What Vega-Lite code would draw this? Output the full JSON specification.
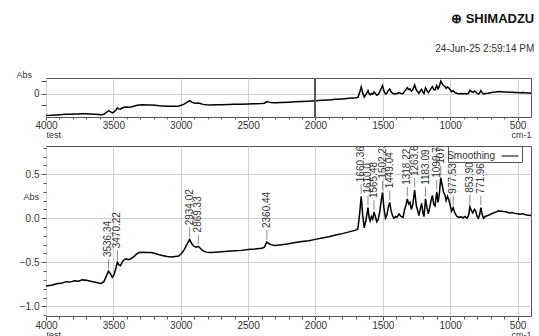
{
  "$schema": "https://vega.github.io/schema/vega-lite/v6.json",
  "padding": {"left": 15, "top": 12, "right": 0, "bottom": 0},
  "background": "white",
  "title": {
    "text": "⊕ SHIMADZU",
    "subtitle": "24-Jun-25 2:59:14 PM",
    "anchor": "end",
    "font": "Liberation Sans",
    "fontSize": 13,
    "fontWeight": "bold",
    "color": "#111111",
    "subtitleFont": "Liberation Sans",
    "subtitleFontSize": 10,
    "subtitleColor": "#333333",
    "subtitlePadding": 18,
    "offset": 16
  },
  "config": {
    "font": "Liberation Sans",
    "view": {"stroke": "#555555", "strokeWidth": 1},
    "axis": {
      "labelFont": "Liberation Sans",
      "labelFontSize": 10,
      "labelColor": "#333333",
      "domain": false,
      "tickColor": "#555555",
      "gridColor": "#cfcfcf",
      "gridWidth": 1,
      "titleFont": "Liberation Sans",
      "titleFontSize": 9,
      "titleFontWeight": "normal",
      "titleColor": "#333333"
    }
  },
  "datasets": {
    "spec": [
      {"wn": 4000, "abs": -0.77}, {"wn": 3960, "abs": -0.76}, {"wn": 3920, "abs": -0.745}, {"wn": 3880, "abs": -0.735},
      {"wn": 3850, "abs": -0.72}, {"wn": 3820, "abs": -0.725}, {"wn": 3790, "abs": -0.71}, {"wn": 3760, "abs": -0.715},
      {"wn": 3730, "abs": -0.7}, {"wn": 3700, "abs": -0.705}, {"wn": 3670, "abs": -0.715}, {"wn": 3640, "abs": -0.725},
      {"wn": 3610, "abs": -0.735}, {"wn": 3590, "abs": -0.74}, {"wn": 3570, "abs": -0.72}, {"wn": 3553, "abs": -0.66},
      {"wn": 3536.34, "abs": -0.6}, {"wn": 3522, "abs": -0.63}, {"wn": 3508, "abs": -0.67}, {"wn": 3495, "abs": -0.64},
      {"wn": 3480, "abs": -0.56}, {"wn": 3470.22, "abs": -0.5}, {"wn": 3458, "abs": -0.53}, {"wn": 3447, "abs": -0.54},
      {"wn": 3435, "abs": -0.5}, {"wn": 3420, "abs": -0.47}, {"wn": 3405, "abs": -0.46}, {"wn": 3390, "abs": -0.47},
      {"wn": 3370, "abs": -0.46}, {"wn": 3350, "abs": -0.44}, {"wn": 3330, "abs": -0.41}, {"wn": 3310, "abs": -0.39},
      {"wn": 3280, "abs": -0.385}, {"wn": 3250, "abs": -0.39}, {"wn": 3220, "abs": -0.39}, {"wn": 3190, "abs": -0.4},
      {"wn": 3160, "abs": -0.415}, {"wn": 3130, "abs": -0.425}, {"wn": 3100, "abs": -0.435}, {"wn": 3070, "abs": -0.44},
      {"wn": 3040, "abs": -0.435}, {"wn": 3015, "abs": -0.43}, {"wn": 2995, "abs": -0.4}, {"wn": 2975, "abs": -0.36},
      {"wn": 2955, "abs": -0.3}, {"wn": 2934.02, "abs": -0.24}, {"wn": 2918, "abs": -0.29}, {"wn": 2900, "abs": -0.32},
      {"wn": 2885, "abs": -0.33}, {"wn": 2869.33, "abs": -0.32}, {"wn": 2855, "abs": -0.34}, {"wn": 2835, "abs": -0.37},
      {"wn": 2810, "abs": -0.385}, {"wn": 2780, "abs": -0.39}, {"wn": 2740, "abs": -0.385}, {"wn": 2700, "abs": -0.38},
      {"wn": 2650, "abs": -0.375}, {"wn": 2600, "abs": -0.37}, {"wn": 2550, "abs": -0.365}, {"wn": 2500, "abs": -0.355},
      {"wn": 2450, "abs": -0.35}, {"wn": 2400, "abs": -0.34}, {"wn": 2380, "abs": -0.33}, {"wn": 2360.44, "abs": -0.27},
      {"wn": 2345, "abs": -0.29}, {"wn": 2330, "abs": -0.3}, {"wn": 2300, "abs": -0.31}, {"wn": 2250, "abs": -0.3},
      {"wn": 2200, "abs": -0.29}, {"wn": 2150, "abs": -0.275}, {"wn": 2100, "abs": -0.265}, {"wn": 2050, "abs": -0.255},
      {"wn": 2000, "abs": -0.24}, {"wn": 1950, "abs": -0.225}, {"wn": 1900, "abs": -0.21}, {"wn": 1850, "abs": -0.19},
      {"wn": 1800, "abs": -0.175}, {"wn": 1750, "abs": -0.155}, {"wn": 1700, "abs": -0.135}, {"wn": 1685, "abs": -0.12},
      {"wn": 1672, "abs": 0.05}, {"wn": 1660.36, "abs": 0.25}, {"wn": 1650, "abs": 0.05}, {"wn": 1638, "abs": -0.11},
      {"wn": 1625, "abs": -0.02}, {"wn": 1610, "abs": 0.12}, {"wn": 1602, "abs": 0.01}, {"wn": 1594, "abs": -0.03},
      {"wn": 1585, "abs": 0.02}, {"wn": 1575, "abs": -0.01}, {"wn": 1565.48, "abs": 0.07}, {"wn": 1555, "abs": 0.02},
      {"wn": 1545, "abs": -0.04}, {"wn": 1535, "abs": -0.02}, {"wn": 1522, "abs": 0.08}, {"wn": 1510, "abs": 0.22},
      {"wn": 1502.23, "abs": 0.29}, {"wn": 1492, "abs": 0.12}, {"wn": 1480, "abs": 0.0}, {"wn": 1470, "abs": 0.03},
      {"wn": 1460, "abs": 0.12}, {"wn": 1449.04, "abs": 0.18}, {"wn": 1438, "abs": 0.08}, {"wn": 1428, "abs": 0.03},
      {"wn": 1418, "abs": 0.0}, {"wn": 1405, "abs": 0.02}, {"wn": 1395, "abs": 0.01}, {"wn": 1380, "abs": 0.05},
      {"wn": 1365, "abs": 0.02}, {"wn": 1350, "abs": 0.01}, {"wn": 1338, "abs": 0.1}, {"wn": 1328, "abs": 0.15},
      {"wn": 1318.22, "abs": 0.22}, {"wn": 1308, "abs": 0.16}, {"wn": 1298, "abs": 0.18}, {"wn": 1288, "abs": 0.1},
      {"wn": 1278, "abs": 0.15}, {"wn": 1263.6, "abs": 0.32}, {"wn": 1252, "abs": 0.15}, {"wn": 1242, "abs": 0.09},
      {"wn": 1232, "abs": 0.03}, {"wn": 1222, "abs": 0.1}, {"wn": 1212, "abs": 0.17}, {"wn": 1202, "abs": 0.06},
      {"wn": 1194, "abs": 0.02}, {"wn": 1183.09, "abs": 0.22}, {"wn": 1172, "abs": 0.12}, {"wn": 1162, "abs": 0.05},
      {"wn": 1152, "abs": 0.12}, {"wn": 1142, "abs": 0.2}, {"wn": 1132, "abs": 0.26}, {"wn": 1122, "abs": 0.16},
      {"wn": 1112, "abs": 0.14}, {"wn": 1099.72, "abs": 0.3}, {"wn": 1090, "abs": 0.18}, {"wn": 1080, "abs": 0.28},
      {"wn": 1070, "abs": 0.46}, {"wn": 1060, "abs": 0.38}, {"wn": 1050, "abs": 0.3}, {"wn": 1040, "abs": 0.27},
      {"wn": 1030, "abs": 0.2}, {"wn": 1020, "abs": 0.25}, {"wn": 1010, "abs": 0.21}, {"wn": 1000, "abs": 0.15},
      {"wn": 990, "abs": 0.08}, {"wn": 977.53, "abs": 0.12}, {"wn": 965, "abs": 0.06}, {"wn": 950, "abs": 0.02},
      {"wn": 935, "abs": 0.01}, {"wn": 920, "abs": 0.015}, {"wn": 905, "abs": 0.005}, {"wn": 890, "abs": 0.02},
      {"wn": 875, "abs": 0.0}, {"wn": 862, "abs": 0.04}, {"wn": 853.9, "abs": 0.13}, {"wn": 843, "abs": 0.09},
      {"wn": 832, "abs": 0.06}, {"wn": 820, "abs": 0.1}, {"wn": 810, "abs": 0.08}, {"wn": 800, "abs": 0.02},
      {"wn": 790, "abs": 0.0}, {"wn": 780, "abs": 0.05}, {"wn": 771.96, "abs": 0.12}, {"wn": 762, "abs": 0.04},
      {"wn": 752, "abs": 0.0}, {"wn": 740, "abs": 0.02}, {"wn": 720, "abs": 0.03}, {"wn": 700, "abs": 0.045},
      {"wn": 680, "abs": 0.06}, {"wn": 660, "abs": 0.07}, {"wn": 640, "abs": 0.085}, {"wn": 620, "abs": 0.08},
      {"wn": 600, "abs": 0.075}, {"wn": 580, "abs": 0.07}, {"wn": 560, "abs": 0.06}, {"wn": 540, "abs": 0.065},
      {"wn": 520, "abs": 0.055}, {"wn": 500, "abs": 0.05}, {"wn": 480, "abs": 0.045}, {"wn": 460, "abs": 0.05},
      {"wn": 440, "abs": 0.04}, {"wn": 420, "abs": 0.035}, {"wn": 400, "abs": 0.03}
    ],
    "peaks": [
      {"wn": 3536.34, "abs": -0.6, "label": "3536.34"},
      {"wn": 3470.22, "abs": -0.5, "label": "3470.22"},
      {"wn": 2934.02, "abs": -0.24, "label": "2934.02"},
      {"wn": 2869.33, "abs": -0.32, "label": "2869.33"},
      {"wn": 2360.44, "abs": -0.27, "label": "2360.44"},
      {"wn": 1660.36, "abs": 0.25, "label": "1660.36"},
      {"wn": 1610, "abs": 0.12, "label": "1610.0"},
      {"wn": 1565.48, "abs": 0.07, "label": "1565.48"},
      {"wn": 1502.23, "abs": 0.29, "label": "1502.23"},
      {"wn": 1449.04, "abs": 0.18, "label": "1449.04"},
      {"wn": 1318.22, "abs": 0.22, "label": "1318.22"},
      {"wn": 1263.6, "abs": 0.32, "label": "1263.60"},
      {"wn": 1183.09, "abs": 0.22, "label": "1183.09"},
      {"wn": 1099.72, "abs": 0.3, "label": "1099.72"},
      {"wn": 1070, "abs": 0.46, "label": "1070"},
      {"wn": 977.53, "abs": 0.12, "label": "977.53"},
      {"wn": 853.9, "abs": 0.13, "label": "853.90"},
      {"wn": 771.96, "abs": 0.12, "label": "771.96"}
    ]
  },
  "spacing": 5,
  "resolve": {"legend": {"color": "independent"}},
  "vconcat": [
    {
      "width": 485,
      "height": 39,
      "data": {"name": "spec"},
      "resolve": {"axis": {"x": "independent", "y": "independent"}},
      "layer": [
        {
          "mark": {"type": "line", "color": "black", "strokeWidth": 1.5, "clip": true},
          "encoding": {
            "x": {
              "field": "wn", "type": "quantitative",
              "scale": {"domain": [400, 4000], "reverse": true, "nice": false, "zero": false},
              "axis": {"orient": "bottom", "values": [4000, 3500, 3000, 2500, 2000, 1500, 1000, 500], "format": "d", "grid": true, "tickSize": 3, "labelPadding": 0, "labelFlush": false,
                       "title": "cm-1", "titleAlign": "right", "titleBaseline": "top", "titleX": 485, "titleY": 13}
            },
            "y": {
              "field": "abs", "type": "quantitative",
              "scale": {"domain": [-0.82, 0.57], "nice": false, "zero": false},
              "axis": {"orient": "left", "values": [-0.4, 0, 0.45], "labelExpr": "datum.value == 0 ? '0' : ''", "grid": false, "tickSize": 5, "labelPadding": 2,
                       "title": "Abs", "titleAngle": 0, "titleAlign": "left", "titleBaseline": "middle", "titleX": -30, "titleY": -4}
            }
          }
        },
        {
          "mark": {"type": "point", "opacity": 0},
          "encoding": {
            "x": {"field": "wn", "type": "quantitative",
                  "axis": {"orient": "bottom", "values": [3900, 3800, 3700, 3600, 3400, 3300, 3200, 3100, 2900, 2800, 2700, 2600, 2400, 2300, 2200, 2100, 1900, 1800, 1700, 1600, 1400, 1300, 1200, 1100, 900, 800, 700, 600],
                           "labels": false, "grid": false, "tickSize": 2, "title": "test", "titleAlign": "left", "titleBaseline": "top", "titleX": 0, "titleY": 13}},
            "y": {"field": "abs", "type": "quantitative",
                  "axis": {"orient": "left", "values": [0], "labels": false, "ticks": false, "grid": true, "title": null}}
          }
        },
        {
          "mark": {"type": "rule", "color": "#555555", "strokeWidth": 1},
          "encoding": {"x": {"datum": 2000, "type": "quantitative", "axis": null}}
        }
      ]
    },
    {
      "width": 485,
      "height": 170,
      "resolve": {"axis": {"x": "independent", "y": "independent"}},
      "layer": [
        {
          "data": {"name": "spec"},
          "mark": {"type": "point", "opacity": 0},
          "encoding": {
            "x": {"field": "wn", "type": "quantitative",
                  "scale": {"domain": [400, 4000], "reverse": true, "nice": false, "zero": false},
                  "axis": {"orient": "bottom", "values": [3900, 3800, 3700, 3600, 3400, 3300, 3200, 3100, 2900, 2800, 2700, 2600, 2400, 2300, 2200, 2100, 1900, 1800, 1700, 1600, 1400, 1300, 1200, 1100, 900, 800, 700, 600],
                           "labels": false, "grid": false, "tickSize": 3, "title": "test", "titleAlign": "left", "titleBaseline": "top", "titleX": 0, "titleY": 14}},
            "y": {"field": "abs", "type": "quantitative",
                  "scale": {"domain": [-1.11, 0.82], "nice": false, "zero": false},
                  "axis": {"orient": "left", "values": [-1.1, -0.9, -0.8, -0.7, -0.6, -0.4, -0.3, -0.2, -0.1, 0.1, 0.2, 0.3, 0.4, 0.6, 0.7, 0.8],
                           "labels": false, "grid": false, "tickSize": 3, "title": null}}
          }
        },
        {
          "mark": {"type": "rule", "color": "#555555", "strokeWidth": 1},
          "encoding": {"x": {"datum": 2000, "type": "quantitative", "axis": null}}
        },
        {
          "data": {"name": "spec"},
          "mark": {"type": "line", "strokeWidth": 1.5, "clip": true},
          "encoding": {
            "x": {"field": "wn", "type": "quantitative",
                  "axis": {"orient": "bottom", "values": [4000, 3500, 3000, 2500, 2000, 1500, 1000, 500], "format": "d", "grid": true, "tickSize": 4, "labelPadding": 0, "labelFlush": false,
                           "title": "cm-1", "titleAlign": "right", "titleBaseline": "top", "titleX": 485, "titleY": 14}},
            "y": {"field": "abs", "type": "quantitative",
                  "axis": {"orient": "left", "values": [-1, -0.5, 0, 0.5], "format": ".1f", "grid": true, "tickSize": 5, "labelPadding": 2,
                           "title": "Abs", "titleAngle": 0, "titleAlign": "left", "titleBaseline": "middle", "titleX": -23, "titleY": 50}},
            "color": {"datum": "Smoothing", "type": "nominal", "scale": {"range": ["black"]},
                      "legend": {"title": null, "orient": "none", "legendX": 402, "legendY": 0, "strokeColor": "#555555", "fillColor": "white",
                                 "padding": 1, "symbolType": "stroke", "symbolSize": 289, "symbolStrokeWidth": 1, "symbolOffset": 52, "labelOffset": -24, "labelAlign": "right",
                                 "labelFont": "Liberation Sans", "labelFontSize": 10, "labelColor": "#333333"}}
          }
        },
        {
          "data": {"name": "peaks"},
          "mark": {"type": "point", "shape": "M0,-0.2L0,-1", "size": 576, "filled": false, "stroke": "#333333", "strokeWidth": 0.8, "clip": true},
          "encoding": {
            "x": {"field": "wn", "type": "quantitative", "axis": null},
            "y": {"field": "abs", "type": "quantitative", "axis": null}
          }
        },
        {
          "data": {"name": "peaks"},
          "mark": {"type": "text", "angle": 270, "align": "left", "baseline": "middle", "dx": 14, "fontSize": 10, "font": "Liberation Sans", "color": "#333333", "clip": true},
          "encoding": {
            "x": {"field": "wn", "type": "quantitative", "axis": null},
            "y": {"field": "abs", "type": "quantitative", "axis": null},
            "text": {"field": "label"}
          }
        }
      ]
    }
  ]
}
